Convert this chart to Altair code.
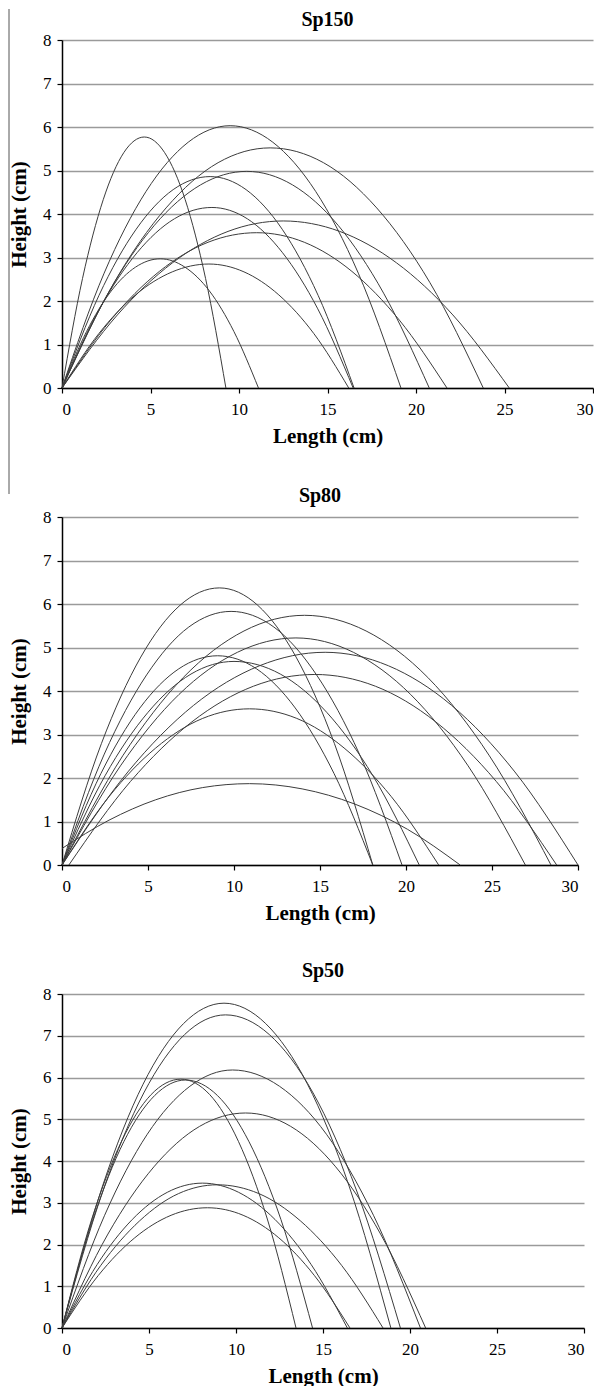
import altair as alt
import pandas as pd

# ---------------- data ----------------
PANEL_TITLES = ["Sp150", "Sp80", "Sp50"]
X_TICKS = [0, 5, 10, 15, 20, 25, 30]
Y_TICKS = [0, 1, 2, 3, 4, 5, 6, 7, 8]

# Sp150: one list of Length points and one of Height points per trajectory
SP150_X = [
    [0, 1.16, 2.33, 3.49, 4.65, 5.80, 6.96, 8.11, 9.26],
    [0, 2.38, 4.75, 7.13, 9.5, 11.91, 14.33, 16.74, 19.15],
    [0, 2.94, 5.88, 8.82, 11.76, 14.77, 17.78, 20.79, 23.8],
    [0, 2.61, 5.22, 7.83, 10.44, 13.02, 15.6, 18.17, 20.75],
    [0, 2.09, 4.19, 6.28, 8.37, 10.4, 12.44, 14.47, 16.5],
    [0, 2.12, 4.24, 6.35, 8.47, 10.47, 12.46, 14.45, 16.45],
    [0, 3.13, 6.25, 9.38, 12.5, 15.69, 18.89, 22.08, 25.27],
    [0, 2.75, 5.5, 8.25, 11.0, 13.69, 16.38, 19.06, 21.75],
    [0, 1.39, 2.78, 4.16, 5.55, 6.94, 8.33, 9.71, 11.1],
    [0, 2.08, 4.15, 6.23, 8.3, 10.28, 12.25, 14.23, 16.2],
]
SP150_Y = [
    [0, 2.52, 4.33, 5.41, 5.77, 5.41, 4.33, 2.52, 0],
    [0, 2.64, 4.52, 5.65, 6.03, 5.65, 4.52, 2.64, 0],
    [0, 2.42, 4.14, 5.18, 5.52, 5.18, 4.14, 2.42, 0],
    [0, 2.18, 3.74, 4.67, 4.98, 4.67, 3.74, 2.18, 0],
    [0, 2.13, 3.65, 4.56, 4.86, 4.56, 3.65, 2.13, 0],
    [0, 1.82, 3.11, 3.89, 4.15, 3.89, 3.11, 1.82, 0],
    [0, 1.68, 2.88, 3.60, 3.84, 3.60, 2.88, 1.68, 0],
    [0, 1.56, 2.68, 3.35, 3.57, 3.35, 2.68, 1.56, 0],
    [0, 1.30, 2.23, 2.78, 2.97, 2.78, 2.23, 1.30, 0],
    [0, 1.25, 2.14, 2.67, 2.85, 2.67, 2.14, 1.25, 0],
]

SP80_X = [
    [0, 2.29, 4.58, 6.86, 9.15, 11.38, 13.61, 15.84, 18.07],
    [0, 2.46, 4.92, 7.37, 9.83, 12.32, 14.8, 17.29, 19.77],
    [0, 3.53, 7.05, 10.58, 14.1, 17.68, 21.27, 24.85, 28.43],
    [0, 3.4, 6.8, 10.2, 13.6, 16.94, 20.27, 23.61, 26.94],
    [0, 3.83, 7.65, 11.48, 15.3, 18.98, 22.65, 26.33, 30.0],
    [0, 2.26, 4.53, 6.79, 9.05, 11.31, 13.56, 15.82, 18.07],
    [0, 2.5, 5.0, 7.5, 10.0, 12.69, 15.39, 18.08, 20.77],
    [0.4, 3.98, 7.55, 11.13, 14.7, 18.22, 21.73, 25.25, 28.76],
    [0, 2.73, 5.45, 8.18, 10.9, 13.65, 16.4, 19.15, 21.9],
    [0, 2.73, 5.45, 8.18, 10.9, 13.96, 17.03, 20.09, 23.15],
]
SP80_Y = [
    [0, 2.79, 4.78, 5.97, 6.37, 5.97, 4.78, 2.79, 0],
    [0, 2.55, 4.37, 5.47, 5.83, 5.47, 4.37, 2.55, 0],
    [0, 2.51, 4.31, 5.38, 5.74, 5.38, 4.31, 2.51, 0],
    [0, 2.28, 3.92, 4.89, 5.22, 4.89, 3.92, 2.28, 0],
    [0, 2.14, 3.67, 4.58, 4.89, 4.58, 3.67, 2.14, 0],
    [0, 2.10, 3.61, 4.51, 4.81, 4.51, 3.61, 2.10, 0],
    [0, 2.05, 3.51, 4.39, 4.68, 4.39, 3.51, 2.05, 0],
    [0, 1.92, 3.29, 4.11, 4.38, 4.11, 3.29, 1.92, 0],
    [0, 1.57, 2.69, 3.37, 3.59, 3.37, 2.69, 1.57, 0],
    [0.38, 1.03, 1.50, 1.78, 1.87, 1.75, 1.40, 0.82, 0],
]

SP50_X = [
    [0, 2.33, 4.66, 6.98, 9.31, 11.71, 14.11, 16.5, 18.9],
    [0, 2.35, 4.7, 7.05, 9.4, 11.91, 14.43, 16.94, 19.45],
    [0, 2.45, 4.9, 7.35, 9.8, 12.5, 15.2, 17.9, 20.6],
    [0, 1.71, 3.42, 5.12, 6.83, 8.49, 10.14, 11.8, 13.45],
    [0, 1.78, 3.55, 5.33, 7.1, 8.93, 10.75, 12.58, 14.4],
    [0, 2.64, 5.28, 7.91, 10.55, 13.14, 15.73, 18.31, 20.9],
    [0, 2.02, 4.04, 6.05, 8.07, 10.15, 12.24, 14.32, 16.4],
    [0, 2.23, 4.47, 6.7, 8.93, 11.31, 13.69, 16.07, 18.45],
    [0, 2.09, 4.18, 6.27, 8.36, 10.41, 12.46, 14.5, 16.55],
]
SP50_Y = [
    [0, 3.40, 5.84, 7.29, 7.78, 7.29, 5.84, 3.40, 0],
    [0, 3.28, 5.63, 7.03, 7.50, 7.03, 5.63, 3.28, 0],
    [0, 2.70, 4.64, 5.79, 6.18, 5.79, 4.64, 2.70, 0],
    [0, 2.61, 4.47, 5.59, 5.96, 5.59, 4.47, 2.61, 0],
    [0, 2.60, 4.46, 5.57, 5.94, 5.57, 4.46, 2.60, 0],
    [0, 2.25, 3.86, 4.83, 5.15, 4.83, 3.86, 2.25, 0],
    [0, 1.52, 2.60, 3.25, 3.47, 3.25, 2.60, 1.52, 0],
    [0, 1.50, 2.57, 3.22, 3.43, 3.22, 2.57, 1.50, 0],
    [0, 1.26, 2.16, 2.70, 2.88, 2.70, 2.16, 1.26, 0],
]

FONT = "Liberation Serif"
LINE_COLOR = "#3c3c3c"
GRID_COLOR = "#9a9a9a"


def to_frame(xs, ys):
    rows = []
    for i, (cx, cy) in enumerate(zip(xs, ys)):
        for j, (x, y) in enumerate(zip(cx, cy)):
            rows.append({"curve": i, "order": j, "length": x, "height": y})
    return pd.DataFrame(rows)


def panel(xs, ys, title, width, height, title_offset, edge_rule=False):
    df = to_frame(xs, ys)
    lines = alt.Chart(df).mark_line(
        color=LINE_COLOR, strokeWidth=1, interpolate="monotone"
    ).encode(
        x=alt.X(
            "length:Q",
            scale=alt.Scale(domain=[0, 30], nice=False),
            axis=alt.Axis(values=X_TICKS, title="Length (cm)", grid=False),
        ),
        y=alt.Y(
            "height:Q",
            scale=alt.Scale(domain=[0, 8], nice=False),
            axis=alt.Axis(values=Y_TICKS, title="Height (cm)", grid=True),
        ),
        detail="curve:N",
        order="order:Q",
    )
    layers = [lines]
    if edge_rule:
        # thin vertical frame line at the left edge of the page (scan border)
        rule = alt.Chart(pd.DataFrame({"k": [0]})).mark_rule(
            color="#555555", strokeWidth=1
        ).encode(x=alt.value(-53), y=alt.value(-31), y2=alt.value(454))
        layers.append(rule)
    return alt.layer(*layers).properties(
        width=width,
        height=height,
        title=alt.TitleParams(
            title, font=FONT, fontSize=20, fontWeight="bold", color="black",
            anchor="middle", frame="group", offset=title_offset,
        ),
    )


p1 = panel(SP150_X, SP150_Y, PANEL_TITLES[0], 531, 348, -21, edge_rule=True)
p2 = panel(SP80_X, SP80_Y, PANEL_TITLES[1], 516, 348, 2)
p3 = panel(SP50_X, SP50_Y, PANEL_TITLES[2], 522, 334, 4)

chart = alt.vconcat(p1, p2, p3, spacing=129, bounds="flush").properties(
    padding={"left": 0, "top": 0, "right": 0, "bottom": 0}
).configure_view(stroke=None).configure_axis(
    labelFont=FONT, labelFontSize=17, labelColor="black",
    titleFont=FONT, titleFontSize=21, titleFontWeight="bold", titleColor="black",
    domainColor="black", domainWidth=1.5, tickColor="black", tickWidth=1.2,
    tickSize=5, gridColor=GRID_COLOR, gridWidth=1.5,
).configure_axisX(labelPadding=8, titlePadding=8).configure_axisY(
    labelPadding=6, titlePadding=13
)

chart.save("out.html", embed_options={"renderer": "svg", "actions": False})
